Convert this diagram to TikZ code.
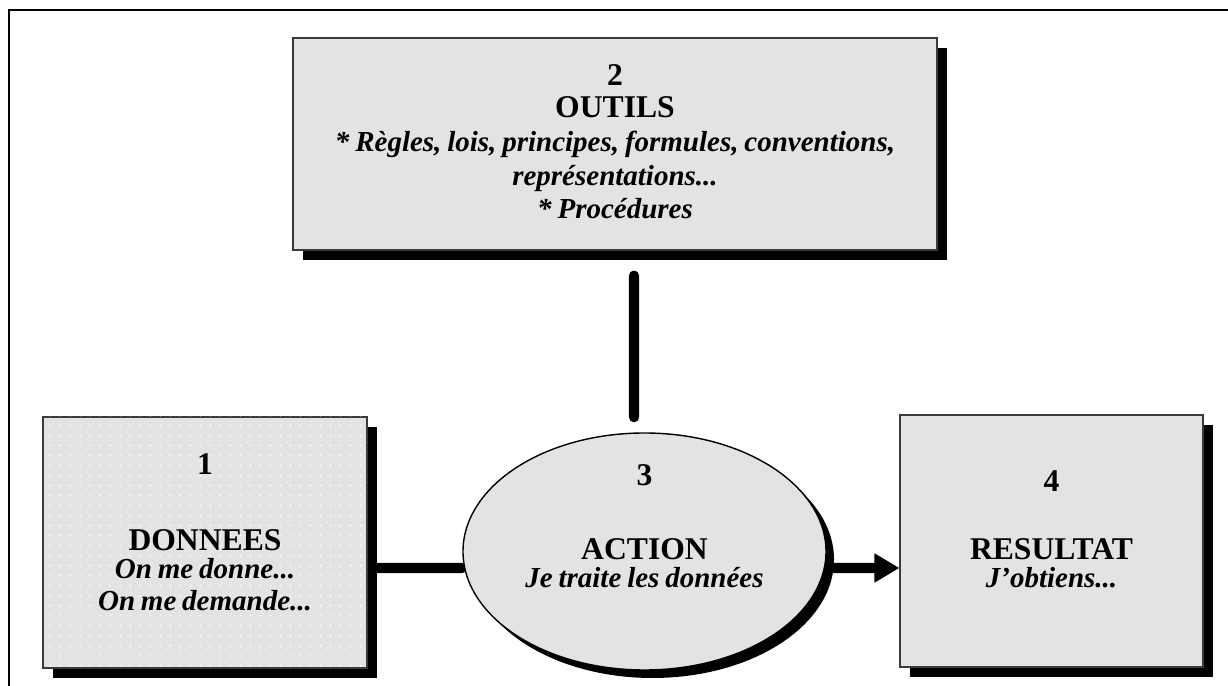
\documentclass[tikz,border=0pt]{standalone}
\usepackage{fontspec}
\setmainfont{Liberation Serif}
\usepackage{tikz}
\usetikzlibrary{calc,arrows.meta,positioning,shadows,patterns.meta,backgrounds,shapes.geometric}
\definecolor{fillgray}{HTML}{E3E3E3}
\definecolor{edge}{HTML}{3A3A3A}
\newcommand{\bodyfont}{\centering\fontsize{16.5}{16.2}\selectfont\bfseries\itshape}
\newcommand{\ttl}[1]{{\fontsize{18}{16.2}\selectfont\upshape #1}}
\tikzset{
  frame/.style={draw=black, line width=1.1pt},
  card/.style={draw=edge, line width=0.6pt, fill=fillgray,
    drop shadow={shadow xshift=0.2cm, shadow yshift=-0.2cm, fill=black, opacity=1}},
  oval/.style={ellipse, draw=black, line width=0.8pt, fill=fillgray, inner sep=0pt,
    drop shadow={shadow xshift=0.16cm, shadow yshift=-0.16cm, fill=black, opacity=1}},
  dotfill/.style={postaction={pattern={Dots[distance=5.7pt,radius=0.55pt]}, pattern color=white}},
  link/.style={draw=black, line width=5.7pt, line cap=round},
  txt/.style={inner sep=0pt, text width=#1},
}

\begin{document}
\begin{tikzpicture}
\useasboundingbox (0,0) rectangle (24.56,13.72);

% shapes
\node[card, minimum width=12.88cm, minimum height=4.24cm] (outils) at (12.30,10.84) {};
\node[card, dotfill, minimum width=6.48cm, minimum height=5.02cm] (donnees) at (4.10,2.87) {};
\node[oval, minimum width=7.26cm, minimum height=4.74cm] (action) at (12.89,2.69) {};
\node[card, minimum width=6.06cm, minimum height=5.04cm] (resultat) at (21.03,2.90) {};

% texts
\node[txt=12.4cm] (outilsTxt) at ([yshift=0.04cm]outils.center)
  {\bodyfont\ttl{2}\\[2pt] \ttl{OUTILS}\\[3pt] {*} Règles, lois, principes, formules, conventions,\\[3pt] représentations...\\[3pt] {*} Procédures\par};
\node[txt=6.2cm] (donneesTxt) at ([yshift=0.20cm]donnees.center)
  {\bodyfont\ttl{1}\\[26.5pt] \ttl{DONNEES}\\ On me donne...\\[2pt] On me demande...\par};
\node[txt=7cm] (actionTxt) at ([yshift=0.51cm]action.center)
  {\bodyfont\ttl{3}\\[26pt] \ttl{ACTION}\\ Je traite les données\par};
\node[txt=5.8cm] (resultatTxt) at ([yshift=0.23cm]resultat.center)
  {\bodyfont\ttl{4}\\[22pt] \ttl{RESULTAT}\\ J’obtiens...\par};

\begin{scope}[on background layer]
\draw[frame] (0.18,0) -- (0.18,13.52) -- (24.56,13.52);
\draw[link] ($(outils.south)+(0.38,-0.5)$) -- ($(action.north)+(-0.21,0.3)$);
\draw[link] ($(donnees.east)+(0.1,-0.51)$) -- ($(action.west)+(0,-0.33)$);
\draw[link, line cap=butt, -{Triangle[length=0.5cm,width=0.55cm]}]
  ($(action.east)+(0,-0.33)$) -- ($(resultat.west)+(0,-0.54)$);
\end{scope}
\end{tikzpicture}
\end{document}
